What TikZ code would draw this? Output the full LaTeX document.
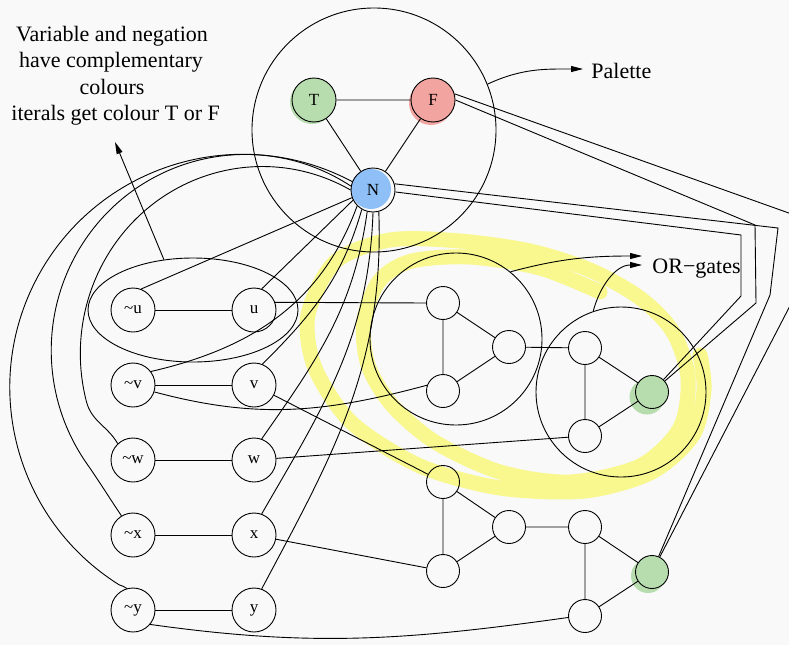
\documentclass[tikz,border=0pt]{standalone}
\usepackage{fontspec}
\setmainfont{Liberation Serif}
\usetikzlibrary{shapes.geometric,arrows.meta}
\definecolor{bg}{RGB}{249,249,249}
\definecolor{hl}{RGB}{248,248,143}
\definecolor{tgreen}{RGB}{183,221,174}
\definecolor{fred}{RGB}{242,165,160}
\definecolor{nblue}{RGB}{142,191,246}
\begin{document}
\begin{tikzpicture}[x=1pt,y=1pt, line width=0.9pt,
  lit/.style={circle,draw,minimum size=44pt,inner sep=0pt,font=\fontsize{17pt}{20pt}\selectfont},
  gate/.style={circle,draw,minimum size=33pt,inner sep=0pt},
  grp/.style={circle,draw,inner sep=0pt},
  lbl/.style={font=\fontsize{22pt}{26pt}\selectfont, inner sep=0pt},
  arrowtip/.style={-{Triangle[length=12pt,width=6pt]}},
  hlband/.style={draw=hl, line width=15pt, line cap=round, line join=round}
]
\fill[bg] (0,0) rectangle (789,-645);
\useasboundingbox (0,0) rectangle (789,-645);
\clip (0,0) rectangle (789,-645);

% yellow highlight spiral
\draw[hlband] plot[smooth] coordinates {(600,-292) (540,-268) (470,-257) (412,-261) (380,-280) (364,-320) (368,-365) (392,-405) (435,-442) (500,-472) (570,-482) (640,-466) (680,-428) (688,-378) (673,-332) (640,-298) (590,-270) (530,-251) (460,-241) (390,-240) (335,-262) (308,-315) (315,-368) (352,-423) (420,-466) (500,-488) (585,-491) (652,-472) (693,-435) (704,-390) (700,-355)};

% painted blobs
\fill[tgreen] (312,-102) circle (22);
\fill[fred] (431,-103) circle (22);
\fill[nblue] (371,-189) circle (20);
\fill[tgreen] (647,-397) circle (17.5);
\fill[tgreen] (648,-576) circle (17);

% palette
\node[grp, minimum size=244pt] (pal) at (374,-130) {};
\node[lit, fill=tgreen] (T) at (314,-100) {T};
\node[lit, fill=fred] (F) at (433,-100) {F};
\node[lit] (N) at (373,-190) {N};

% literals
\node[draw, ellipse, minimum width=210pt, minimum height=104pt, inner sep=0pt] (ell) at (193,-310) {};
\node[lit] (mu) at (133,-310) {\textasciitilde u};
\node[lit] (pu) at (254,-310) {u};
\node[lit] (mv) at (133,-385) {\textasciitilde v};
\node[lit] (pv) at (254,-385) {v};
\node[lit] (mw) at (133,-460) {\textasciitilde w};
\node[lit] (pw) at (254,-460) {w};
\node[lit] (mx) at (133,-535) {\textasciitilde x};
\node[lit] (px) at (254,-535) {x};
\node[lit] (my) at (133,-610) {\textasciitilde y};
\node[lit] (py) at (254,-610) {y};

% OR gates (top)
\node[grp, minimum size=172pt] (g1) at (456,-339) {};
\node[grp, minimum size=170pt] (g2) at (621,-392) {};
\node[gate] (g1a) at (443,-303) {};
\node[gate] (g1b) at (443,-391) {};
\node[gate] (g1c) at (509,-347) {};
\node[gate] (g2a) at (585,-348) {};
\node[gate] (g2b) at (585,-436) {};
\node[gate, fill=tgreen] (g2c) at (652,-392) {};
% OR gates (bottom)
\node[gate] (h1a) at (443,-482) {};
\node[gate] (h1b) at (443,-571) {};
\node[gate] (h1c) at (509,-527) {};
\node[gate] (h2a) at (585,-527) {};
\node[gate] (h2b) at (585,-616) {};
\node[gate, fill=tgreen] (h2c) at (652,-572) {};

% texts
\node[lbl, anchor=base] (t1) at (112,-41) {Variable and negation};
\node[lbl, anchor=base] (t2) at (111,-67) {have complementary};
\node[lbl, anchor=base] (t3) at (112,-94) {colours};
\node[lbl, anchor=base west] (t4) at (11,-120) {iterals get colour T or F};
\node[lbl, anchor=base west] (pt) at (591,-78) {Palette};
\node[lbl, anchor=base west] (ot) at (652,-273) {OR−gates};

% annotation arrows
\coordinate (paltip) at (583,-69);
\coordinate (ortipa) at (642,-256);
\coordinate (ortipb) at (642,-265);
\coordinate (notetip) at (115,-142);
\draw[arrowtip] (pal.22) to[out=25,in=180] (paltip);
\draw[arrowtip] (g1.51) to[out=15,in=180] (ortipa);
\draw[arrowtip] (g2.109) to[out=75,in=180] (ortipb);
\draw[arrowtip] (ell.120) -- (notetip);

% palette edges
\draw (T) -- (F) (T) -- (N) (F) -- (N);

% literal pairs
\draw (mu) -- (pu) (mv) -- (pv) (mw) -- (pw) (mx) -- (px) (my) -- (py);

% gate edges
\draw (g1a) -- (g1b) (g1a) -- (g1c) (g1b) -- (g1c) (g1c) -- (g2a)
      (g2a) -- (g2b) (g2a) -- (g2c) (g2b) -- (g2c);
\draw (h1a) -- (h1b) (h1a) -- (h1c) (h1b) -- (h1c) (h1c) -- (h2a)
      (h2a) -- (h2b) (h2a) -- (h2c) (h2b) -- (h2c);

% literals to gates
\draw (pu.20) -- (g1a.180);
\draw (mv.-18) to[out=-15,in=195] (g1b.160);
\draw (pv) -- (h1a);
\draw (pw) -- (g2b);
\draw (px) -- (h1b);
\draw (my.-40) to[out=-8,in=188] (h2b.185);

% N to literals
\draw (N.200) -- (mu.69);
\draw (N.207) -- (pu.70);
\draw (N.225) to[out=250,in=13] (mv.37);
\draw (N.240) to[out=254,in=45] (pv.68);
\draw (N.255) to[out=262,in=55] (pw.70);
\draw (N.270) to[out=268,in=60] (px.70);
\draw (N.285) to[out=272,in=62] (py.70);
\draw (N.158) arc[start angle=62, end angle=238, radius=233] to[out=-32,in=128] (my.106);
\draw (N.170) arc[start angle=57, end angle=215, x radius=194, y radius=196] to[out=-55,in=124] (mx.121);
\draw (N.180) arc[start angle=61, end angle=195, x radius=182, y radius=187] to[out=-75,in=120] (mw.133);

% palette to output gates
\draw (N.16) -- (778,-228) -- (770,-295) -- (h2c);
\draw (N.-5) -- (741,-235) -- (741,-296) -- (g2c);
\draw (F.16) -- (800,-217) -- (793,-300) -- (h2c);
\draw (F.0) -- (755,-225) -- (756,-303) -- (g2c);
\end{tikzpicture}
\end{document}
